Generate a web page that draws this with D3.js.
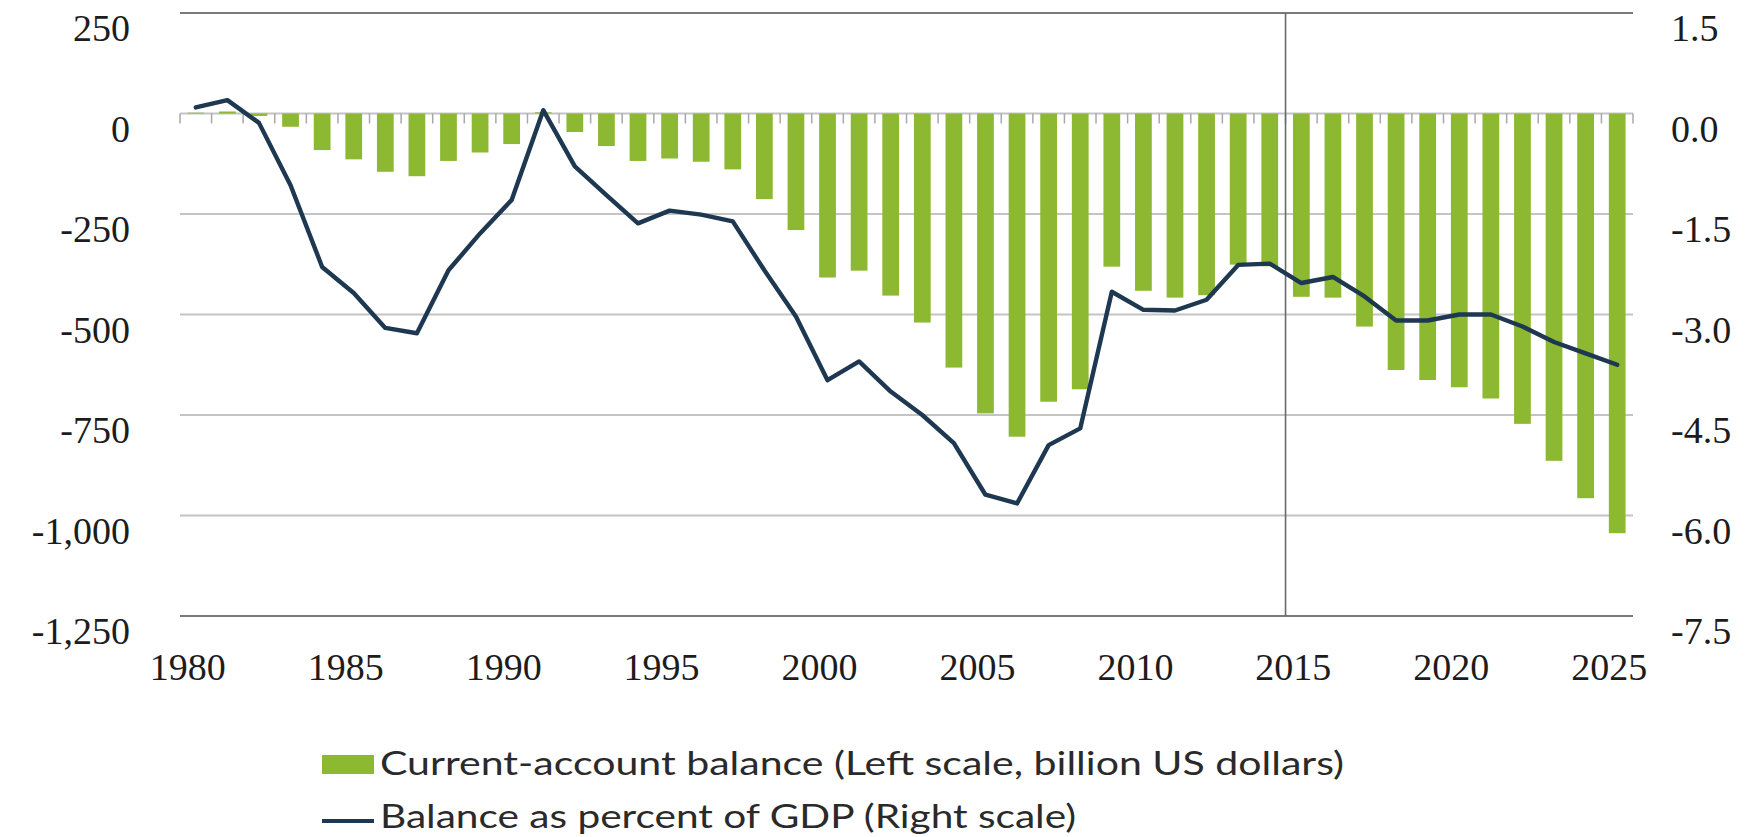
<!DOCTYPE html>
<html>
<head>
<meta charset="utf-8">
<script src="https://cdn.jsdelivr.net/npm/d3@7"></script>
<style>
  html, body { margin: 0; padding: 0; background: #ffffff; }
  svg { display: block; }
</style>
</head>
<body>
<svg id="chart" width="1755" height="837"></svg>
<script>
// Years on the category axis
const years = [
  1980, 1981, 1982, 1983, 1984, 1985, 1986, 1987, 1988, 1989,
  1990, 1991, 1992, 1993, 1994, 1995, 1996, 1997, 1998, 1999,
  2000, 2001, 2002, 2003, 2004, 2005, 2006, 2007, 2008, 2009,
  2010, 2011, 2012, 2013, 2014, 2015, 2016, 2017, 2018, 2019,
  2020, 2021, 2022, 2023, 2024, 2025
];

// Current-account balance, billion US dollars (left scale)
const balanceBillions = [
     2,    5,   -6,  -33,  -91, -114, -145, -156, -118,  -97,
   -76,    3,  -46,  -81, -118, -112, -120, -139, -213, -290,
  -408, -391, -453, -520, -632, -746, -804, -717, -686, -381,
  -441, -458, -452, -376, -380, -456, -458, -530, -638, -663,
  -681, -709, -772, -864, -957, -1044
];

// Balance as percent of GDP (right scale)
const balancePctGdp = [
   0.09,  0.20, -0.14, -1.07, -2.29, -2.68, -3.20, -3.28, -2.34, -1.79,
  -1.29,  0.05, -0.79, -1.22, -1.64, -1.45, -1.51, -1.61, -2.34, -3.03,
  -3.98, -3.70, -4.15, -4.50, -4.92, -5.69, -5.82, -4.95, -4.70, -2.66,
  -2.93, -2.94, -2.78, -2.26, -2.24, -2.53, -2.44, -2.73, -3.09, -3.09,
  -3.00, -3.00, -3.18, -3.41, -3.58, -3.75
];

const leftTicks  = [250, 0, -250, -500, -750, -1000, -1250];
const rightTicks = [1.5, 0, -1.5, -3, -4.5, -6, -7.5];
const yearLabels = [1980, 1985, 1990, 1995, 2000, 2005, 2010, 2015, 2020, 2025];
const dividerYear = 2015;

const legendItems = [
  "Current-account balance (Left scale, billion US dollars)",
  "Balance as percent of GDP (Right scale)"
];

// ---- layout ----
const plot = { left: 180, right: 1633, top: 13, bottom: 616 };
const BAR_COLOR = "#8db832";
const LINE_COLOR = "#1d3850";
const TEXT_COLOR = "#1c1c1c";

const loc = d3.formatLocale({
  decimal: ".", thousands: ",", grouping: [3], currency: ["$", ""], minus: "-"
});
const fmtLeft = loc.format(",");
const fmtRight = loc.format(".1f");

const svg = d3.select("#chart");

const x = d3.scaleBand()
  .domain(years)
  .range([plot.left, plot.right])
  .paddingInner(0.47)
  .paddingOuter(0.235);

const yLeft = d3.scaleLinear().domain([-1250, 250]).range([plot.bottom, plot.top]);
const yRight = d3.scaleLinear().domain([-7.5, 1.5]).range([plot.bottom, plot.top]);

const step = x.step();
const boundary = i => plot.left + i * step;           // left edge of category i
const center = d => x(d) + x.bandwidth() / 2;

// ---- horizontal gridlines ----
svg.append("g")
  .selectAll("line")
  .data(leftTicks)
  .join("line")
  .attr("x1", plot.left)
  .attr("x2", plot.right)
  .attr("y1", d => yLeft(d))
  .attr("y2", d => yLeft(d))
  .attr("stroke", (d, i) => (i === 0 || i === leftTicks.length - 1) ? "#7a7a7a" : "#c4c4c4")
  .attr("stroke-width", 2);

// ---- category tick marks hanging from the zero line ----
svg.append("g")
  .selectAll("line")
  .data(d3.range(years.length + 1))
  .join("line")
  .attr("x1", i => boundary(i))
  .attr("x2", i => boundary(i))
  .attr("y1", yLeft(0))
  .attr("y2", yLeft(0) + 10)
  .attr("stroke", "#a8a8a8")
  .attr("stroke-width", 1.5);

// ---- divider between history and projections ----
const dividerX = boundary(years.indexOf(dividerYear));
svg.append("line")
  .attr("x1", dividerX).attr("x2", dividerX)
  .attr("y1", plot.top).attr("y2", plot.bottom)
  .attr("stroke", "#6a6a6a")
  .attr("stroke-width", 1.6);

// ---- bars ----
svg.append("g")
  .selectAll("rect")
  .data(years.map((yr, i) => ({ yr, v: balanceBillions[i] })))
  .join("rect")
  .attr("x", d => x(d.yr))
  .attr("width", x.bandwidth())
  .attr("y", d => Math.min(yLeft(d.v), yLeft(0)))
  .attr("height", d => Math.abs(yLeft(d.v) - yLeft(0)))
  .attr("fill", BAR_COLOR);

// ---- percent-of-GDP line ----
const line = d3.line()
  .x(d => center(d.yr))
  .y(d => yRight(d.v));

svg.append("path")
  .datum(years.map((yr, i) => ({ yr, v: balancePctGdp[i] })))
  .attr("d", line)
  .attr("fill", "none")
  .attr("stroke", LINE_COLOR)
  .attr("stroke-width", 4.4)
  .attr("stroke-linejoin", "round")
  .attr("stroke-linecap", "round");

// ---- axes ----
const tickFont = "'Liberation Serif', 'Times New Roman', serif";

const leftAxis = svg.append("g")
  .attr("transform", "translate(130,0)")
  .call(d3.axisLeft(yLeft).tickValues(leftTicks).tickFormat(fmtLeft).tickSize(0).tickPadding(0));
leftAxis.select(".domain").remove();
leftAxis.selectAll("text")
  .attr("x", 0)
  .attr("y", 15)
  .attr("dy", "0.34em")
  .attr("fill", TEXT_COLOR)
  .style("font-family", tickFont)
  .style("font-size", "38px");

const rightAxis = svg.append("g")
  .attr("transform", "translate(1671,0)")
  .call(d3.axisRight(yRight).tickValues(rightTicks).tickFormat(fmtRight).tickSize(0).tickPadding(0));
rightAxis.select(".domain").remove();
rightAxis.selectAll("text")
  .attr("x", 0)
  .attr("y", 15)
  .attr("dy", "0.34em")
  .attr("fill", TEXT_COLOR)
  .style("font-family", tickFont)
  .style("font-size", "38px");

const bottomAxis = svg.append("g")
  .attr("transform", `translate(0,${plot.bottom})`)
  .call(d3.axisBottom(x).tickValues(yearLabels).tickSize(0).tickPadding(0));
bottomAxis.select(".domain").remove();
bottomAxis.selectAll("text")
  .attr("x", -8)
  .attr("y", 64)
  .attr("dy", 0)
  .attr("fill", TEXT_COLOR)
  .style("font-family", tickFont)
  .style("font-size", "38px");

// ---- legend ----
const legendFont = "Lato, 'Open Sans', sans-serif";
const legend = svg.append("g");

legend.append("rect")
  .attr("x", 322).attr("y", 755)
  .attr("width", 52).attr("height", 19)
  .attr("fill", BAR_COLOR);

legend.append("line")
  .attr("x1", 322).attr("x2", 374)
  .attr("y1", 821).attr("y2", 821)
  .attr("stroke", LINE_COLOR)
  .attr("stroke-width", 4);

const legendWidths = [964, 696];
legend.selectAll("text")
  .data(legendItems)
  .join("text")
  .attr("x", 380)
  .attr("y", (d, i) => 775 + i * 53)
  .attr("textLength", (d, i) => legendWidths[i])
  .attr("lengthAdjust", "spacingAndGlyphs")
  .attr("fill", "#2a2a2a")
  .style("font-family", legendFont)
  .style("font-size", "32px")
  .text(d => d);
</script>
</body>
</html>
